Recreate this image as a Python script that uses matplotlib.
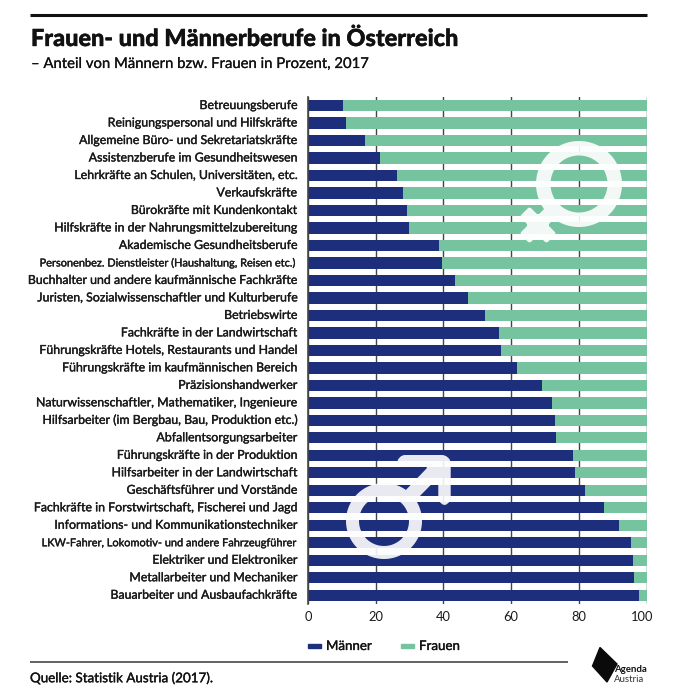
import numpy as np
import matplotlib
matplotlib.use('Agg')
import matplotlib.pyplot as plt
import matplotlib.patheffects as pe
from matplotlib.patches import PathPatch, Polygon, Rectangle
from matplotlib.path import Path
from matplotlib.transforms import ScaledTranslation

plt.rcParams['font.family'] = ['Lato', 'DejaVu Sans']
plt.rcParams['ytick.alignment'] = 'center'

berufe = [
    "Betreuungsberufe",
    "Reinigungspersonal und Hilfskräfte",
    "Allgemeine Büro- und Sekretariatskräfte",
    "Assistenzberufe im Gesundheitswesen",
    "Lehrkräfte an Schulen, Universitäten, etc.",
    "Verkaufskräfte",
    "Bürokräfte mit Kundenkontakt",
    "Hilfskräfte in der Nahrungsmittelzubereitung",
    "Akademische Gesundheitsberufe",
    "Personenbez. Dienstleister (Haushaltung, Reisen etc.)",
    "Buchhalter und andere kaufmännische Fachkräfte",
    "Juristen, Sozialwissenschaftler und Kulturberufe",
    "Betriebswirte",
    "Fachkräfte in der Landwirtschaft",
    "Führungskräfte Hotels, Restaurants und Handel",
    "Führungskräfte im kaufmännischen Bereich",
    "Präzisionshandwerker",
    "Naturwissenschaftler, Mathematiker, Ingenieure",
    "Hilfsarbeiter (im Bergbau, Bau, Produktion etc.)",
    "Abfallentsorgungsarbeiter",
    "Führungskräfte in der Produktion",
    "Hilfsarbeiter in der Landwirtschaft",
    "Geschäftsführer und Vorstände",
    "Fachkräfte in Forstwirtschaft, Fischerei und Jagd",
    "Informations- und Kommunikationstechniker",
    "LKW-Fahrer, Lokomotiv- und andere Fahrzeugführer",
    "Elektriker und Elektroniker",
    "Metallarbeiter und Mechaniker",
    "Bauarbeiter und Ausbaufachkräfte",
]
maenner = [10.3, 11.2, 16.8, 21.2, 26.2, 28.0, 29.2, 29.8, 38.8, 39.5,
           43.5, 47.2, 52.3, 56.5, 57.0, 61.7, 69.0, 72.2, 73.0, 73.3,
           78.2, 79.0, 81.8, 87.4, 91.9, 95.4, 96.0, 96.4, 97.8]
frauen = [100 - m for m in maenner]
ticks = [0, 20, 40, 60, 80, 100]

BLUE = '#1d2f7c'
GREEN = '#76c39f'
W, H = 680, 700

fig = plt.figure(figsize=(W / 100, H / 100), dpi=100)

# main chart
ax = fig.add_axes([308 / W, 1 - 604 / H, 338.5 / W, 507.2 / H])
y = np.arange(len(berufe))
ax.barh(y, maenner, height=0.645, color=BLUE, zorder=3)
ax.barh(y, frauen, left=maenner, height=0.645, color=GREEN, zorder=3)
ax.set_yticks(y)
ax.set_yticklabels(berufe, fontsize=8.9, color='#1a1a1a')
thicker = [pe.withStroke(linewidth=0.25, foreground='#1a1a1a')]
for lab in ax.get_yticklabels():
    lab.set_path_effects(thicker)
    if lab.get_text().startswith(("Personenbez", "LKW")):
        lab.set_fontsize(7.9)
ax.set_ylim(len(berufe) - 0.5, -0.5)
ax.set_xlim(0, 100)
ax.set_xticks(ticks)
ax.tick_params(axis='y', length=0, pad=7.5)
ax.tick_params(axis='x', length=0, pad=5, labelsize=9.3, labelcolor='#1a1a1a')
ax.get_xticklabels()[-1].set_transform(
    ax.get_xticklabels()[-1].get_transform() + ScaledTranslation(-4 / 100, 0, fig.dpi_scale_trans))
ax.grid(axis='x', color='#444444', linewidth=1, zorder=1)
for side in ['top', 'right', 'bottom']:
    ax.spines[side].set_visible(False)
ax.spines['left'].set_color('#444444')
ax.spines['left'].set_linewidth(1.2)
ax.spines['left'].set_zorder(5)

# pixel overlay for header, footer and the two symbols
ov = fig.add_axes([0, 0, 1, 1], zorder=10)
ov.set_xlim(0, W)
ov.set_ylim(H, 0)
ov.axis('off')
ov.patch.set_alpha(0)

ov.plot([30, 647], [15, 15], color='#111111', lw=2.2, solid_capstyle='butt')
ov.plot([30, 568], [661.5, 661.5], color='#555555', lw=1.3, solid_capstyle='butt')
ov.text(31, 39.5, "Frauen- und Männerberufe in Österreich", fontsize=16.9,
        fontweight='black', color='#111111', va='center',
        path_effects=[pe.withStroke(linewidth=0.3, foreground='#111111')])
ov.text(31, 64, "– Anteil von Männern bzw. Frauen in Prozent, 2017", fontsize=10.7,
        color='#111111', va='center', path_effects=[pe.withStroke(linewidth=0.15, foreground='#111111')])
ov.text(30, 678, "Quelle: Statistik Austria (2017).", fontsize=9.65,
        color='#111111', va='center', path_effects=thicker)


def ring(cx, cy, r_out, r_in):
    t = np.linspace(0, 2 * np.pi, 121)
    outer = np.column_stack([cx + r_out * np.cos(t), cy + r_out * np.sin(t)])
    inner = np.column_stack([cx + r_in * np.cos(t[::-1]), cy + r_in * np.sin(t[::-1])])
    verts = np.vstack([outer, inner])
    codes = [Path.MOVETO] + [Path.LINETO] * 120 + [Path.MOVETO] + [Path.LINETO] * 120
    return verts, codes


def rounded(points, r):
    # polygon with soft corners, wound the same way as the outer ring
    pts = np.array(points, dtype=float)
    x, yy = pts[:, 0], pts[:, 1]
    if np.sum(x * np.roll(yy, -1) - np.roll(x, -1) * yy) < 0:
        pts = pts[::-1]
    verts, codes = [], []
    n = len(pts)
    for i in range(n):
        p, a, b = pts[i], pts[i - 1], pts[(i + 1) % n]
        d1 = (a - p) / np.linalg.norm(a - p)
        d2 = (b - p) / np.linalg.norm(b - p)
        verts += [p + d1 * r, p, p + d2 * r]
        codes += [Path.MOVETO if i == 0 else Path.LINETO, Path.CURVE3, Path.CURVE3]
    verts.append(verts[0])
    codes.append(Path.LINETO)
    return np.array(verts), codes


def symbol(parts, tint):
    verts = np.vstack([p[0] for p in parts])
    codes = sum((list(p[1]) for p in parts), [])
    shape = Path(verts, codes)
    ov.add_patch(PathPatch(shape, facecolor=tint, edgecolor='none', alpha=0.07))
    ov.add_patch(PathPatch(shape, facecolor='white', edgecolor='none', alpha=0.9))


def cross(cx, cy, arm, half, stem):
    # plus sign turned by 45 degrees, long arm pointing up to the ring
    uv = [(half, half), (stem, half), (stem, -half), (half, -half), (half, -arm), (-half, -arm),
          (-half, -half), (-arm, -half), (-arm, half), (-half, half), (-half, arm), (half, arm)]
    c = np.sqrt(0.5)
    return [(cx + c * (u + v), cy + c * (-u + v)) for u, v in uv]


# Frauen symbol
symbol([ring(579, 184, 43, 28.5), rounded(cross(538, 225, 19, 7, 26), 2.5)], GREEN)

# Maenner symbol
arrow = [(402, 494), (428.3, 466.7), (402, 466.7), (396.5, 461), (402, 455), (445, 455), (450.7, 460),
         (450.7, 501), (444.5, 506), (438.3, 501), (438.3, 477.3), (412, 504)]
symbol([ring(384, 521, 38, 25), rounded(arrow, 3)], BLUE)

# legend
ov.add_patch(Rectangle((308, 643.5), 13, 4.5, color=BLUE))
ov.add_patch(Rectangle((401, 643.5), 13, 4.5, color=GREEN))
ov.text(326, 646, "Männer", fontsize=9.6, color='#111111', va='center', path_effects=thicker)
ov.text(419, 646, "Frauen", fontsize=9.6, color='#111111', va='center', path_effects=thicker)

# logo
ov.add_patch(Polygon([(600, 647.5), (617, 664), (607, 682), (592.5, 666)], closed=True, color='#0a0a0a'))
ov.text(614, 669.5, "Agenda", fontsize=6.9, fontweight='bold', color='#111111', va='center')
ov.text(614, 679, "Austria", fontsize=6.9, color='#333333', va='center')

fig.savefig('out.png', dpi=100)
